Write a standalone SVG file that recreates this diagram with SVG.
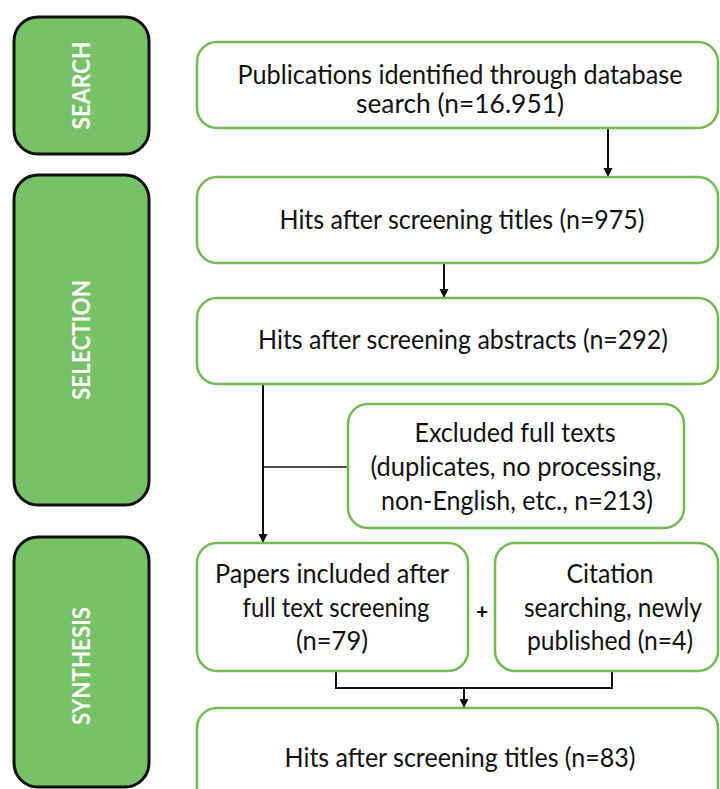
<svg xmlns="http://www.w3.org/2000/svg" width="720" height="789" viewBox="0 0 720 789">
<defs>
<style>
.stage{fill:#77c166;stroke:#111;stroke-width:3}
.box{fill:#fff;stroke:#72bb52;stroke-width:2.5}
.lab{font-family:Lato,"Open Sans","Liberation Sans",sans-serif;font-weight:bold;font-size:25px;fill:#fff;text-anchor:middle}
.t{font-family:Lato,"Open Sans","Liberation Sans",sans-serif;font-size:26.5px;fill:#111;text-anchor:middle}
.con{fill:none;stroke:#111;stroke-width:2}
.thin{fill:none;stroke:#111;stroke-width:1.4}
</style>
<marker id="ah" viewBox="0 0 10 10" refX="10" refY="5" markerWidth="9" markerHeight="10" markerUnits="userSpaceOnUse" orient="auto">
<path d="M0,0 L10,5 L0,10 z" fill="#111"/>
</marker>
</defs>
<rect width="720" height="789" fill="#fff"/>

<g id="stage-search">
<rect class="stage" x="14" y="17" width="135" height="137" rx="24"/>
<text class="lab" transform="translate(90,85.5) rotate(-90)" textLength="88" lengthAdjust="spacingAndGlyphs">SEARCH</text>
</g>
<g id="stage-selection">
<rect class="stage" x="14" y="175" width="135" height="330" rx="24"/>
<text class="lab" transform="translate(90,340) rotate(-90)" textLength="120" lengthAdjust="spacingAndGlyphs">SELECTION</text>
</g>
<g id="stage-synthesis">
<rect class="stage" x="14" y="537" width="135" height="250" rx="24"/>
<text class="lab" transform="translate(90,666) rotate(-90)" textLength="118" lengthAdjust="spacingAndGlyphs">SYNTHESIS</text>
</g>

<g id="connectors">
<line class="con" x1="608" y1="128" x2="608" y2="177" marker-end="url(#ah)"/>
<line class="con" x1="444" y1="263" x2="444" y2="298" marker-end="url(#ah)"/>
<line class="con" x1="263" y1="384" x2="263" y2="543" marker-end="url(#ah)"/>
<line class="thin" x1="263" y1="467" x2="348" y2="467"/>
<path class="con" d="M336,671 V688 H612 V671"/>
<line class="con" x1="464" y1="688" x2="464" y2="708" marker-end="url(#ah)"/>
</g>

<g id="n-identified">
<rect class="box" x="197" y="42" width="521" height="86" rx="20"/>
<text class="t" x="460" y="84" textLength="445" lengthAdjust="spacingAndGlyphs">Publications identified through database</text>
<text class="t" x="460" y="113" textLength="208" lengthAdjust="spacingAndGlyphs">search (n=16.951)</text>
</g>
<g id="n-titles">
<rect class="box" x="197" y="177" width="521" height="86" rx="20"/>
<text class="t" x="462" y="229" textLength="365" lengthAdjust="spacingAndGlyphs">Hits after screening titles (n=975)</text>
</g>
<g id="n-abstracts">
<rect class="box" x="197" y="298" width="521" height="86" rx="20"/>
<text class="t" x="463" y="349" textLength="410" lengthAdjust="spacingAndGlyphs">Hits after screening abstracts (n=292)</text>
</g>
<g id="n-excluded">
<rect class="box" x="348" y="404" width="336" height="124" rx="20"/>
<text class="t" x="515" y="442" textLength="201" lengthAdjust="spacingAndGlyphs">Excluded full texts</text>
<text class="t" x="516" y="476" textLength="291" lengthAdjust="spacingAndGlyphs">(duplicates, no processing,</text>
<text class="t" x="517" y="510" textLength="272" lengthAdjust="spacingAndGlyphs">non-English, etc., n=213)</text>
</g>
<g id="n-papers">
<rect class="box" x="197" y="543" width="271" height="128" rx="20"/>
<text class="t" x="332" y="583" textLength="234" lengthAdjust="spacingAndGlyphs">Papers included after</text>
<text class="t" x="336" y="617" textLength="187" lengthAdjust="spacingAndGlyphs">full text screening</text>
<text class="t" x="332" y="650" textLength="72" lengthAdjust="spacingAndGlyphs">(n=79)</text>
</g>
<g id="plus">
<text class="t" x="482" y="619" style="font-weight:bold;font-size:21px">+</text>
</g>
<g id="n-citation">
<rect class="box" x="495" y="543" width="223" height="128" rx="20"/>
<text class="t" x="610" y="583" textLength="87" lengthAdjust="spacingAndGlyphs">Citation</text>
<text class="t" x="613" y="617" textLength="178" lengthAdjust="spacingAndGlyphs">searching, newly</text>
<text class="t" x="610" y="650" textLength="166" lengthAdjust="spacingAndGlyphs">published (n=4)</text>
</g>
<g id="n-final">
<rect class="box" x="197" y="708" width="521" height="100" rx="20"/>
<text class="t" x="460" y="767" textLength="351" lengthAdjust="spacingAndGlyphs">Hits after screening titles (n=83)</text>
</g>
</svg>
